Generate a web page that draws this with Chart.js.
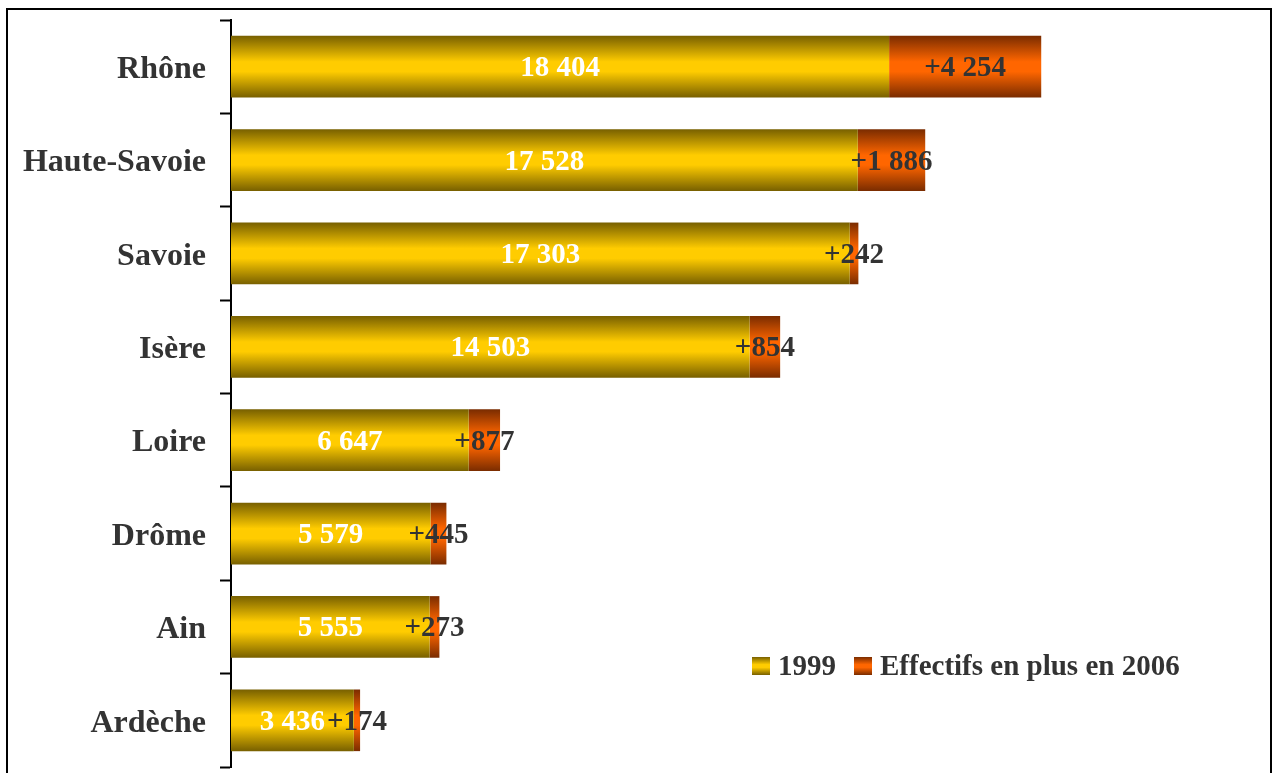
<!DOCTYPE html>
<html lang="fr">
<head>
<meta charset="utf-8">
<title>Effectifs par département</title>
<script src="https://cdn.jsdelivr.net/npm/chart.js@4"></script>
<style>
    body { margin: 0; background: #fff; }
    canvas { display: block; }
</style>
</head>
<body>
<canvas id="graficaDepartements" width="1273" height="773"></canvas>
<script>
// Données
const departements = ['Rhône', 'Haute-Savoie', 'Savoie', 'Isère', 'Loire', 'Drôme', 'Ain', 'Ardèche'];
const effectifs1999 = [18404, 17528, 17303, 14503, 6647, 5579, 5555, 3436];
const enPlus2006 = [4254, 1886, 242, 854, 877, 445, 273, 174];
const nomsSeries = ['1999', 'Effectifs en plus en 2006'];

const police = "'Liberation Serif', 'Times New Roman', serif";
const jaune = ['#786000', '#FFCC00'];
const orange = ['#7A2C00', '#FF6600'];
const epaisseur = 0.66;

function degrade(c, top, bottom, couleurs) {
    const g = c.createLinearGradient(0, top, 0, bottom);
    g.addColorStop(0, couleurs[0]);
    g.addColorStop(0.42, couleurs[1]);
    g.addColorStop(0.58, couleurs[1]);
    g.addColorStop(1, couleurs[0]);
    return g;
}

// dégradé vertical pour chaque barre
function couleurBarre(couleurs) {
    return function (context) {
        const chart = context.chart;
        const y = chart.scales.y;
        if (!chart.chartArea || !y || context.dataIndex === undefined) return couleurs[1];
        const centre = y.getPixelForValue(context.dataIndex);
        const h = (y.bottom - y.top) / departements.length * epaisseur;
        return degrade(chart.ctx, centre - h / 2, centre + h / 2, couleurs);
    };
}

function formatNombre(n) {
    return n.toString().replace(/\B(?=(\d{3})+(?!\d))/g, ' ');
}

// étiquettes des valeurs au centre de chaque segment
const etiquettes = {
    id: 'etiquettes',
    afterDatasetsDraw(chart) {
        const c = chart.ctx;
        c.save();
        c.font = 'bold 29px ' + police;
        c.textAlign = 'center';
        c.textBaseline = 'middle';
        chart.data.datasets.forEach((ds, i) => {
            chart.getDatasetMeta(i).data.forEach((bar, j) => {
                const p = bar.getProps(['x', 'y', 'base'], true);
                const texte = (i === 1 ? '+' : '') + formatNombre(ds.data[j]);
                c.fillStyle = i === 0 ? '#FFFFFF' : '#333333';
                c.fillText(texte, (p.x + p.base) / 2, p.y + 2);
            });
        });
        c.restore();
    }
};

// légende et cadre
const cadre = {
    id: 'cadre',
    afterDraw(chart) {
        const c = chart.ctx;
        c.save();
        c.strokeStyle = '#000';
        c.lineWidth = 2;
        c.beginPath();
        c.moveTo(7, 780);
        c.lineTo(7, 9);
        c.lineTo(1271, 9);
        c.lineTo(1271, 780);
        c.stroke();

        c.font = 'bold 29px ' + police;
        c.textBaseline = 'middle';
        c.fillStyle = degrade(c, 657, 675, jaune);
        c.fillRect(752, 657, 18, 18);
        c.fillStyle = '#333333';
        c.fillText(nomsSeries[0], 778, 668);
        c.fillStyle = degrade(c, 657, 675, orange);
        c.fillRect(854, 657, 18, 18);
        c.fillStyle = '#333333';
        c.fillText(nomsSeries[1], 880, 668);
        c.restore();
    }
};

document.addEventListener('DOMContentLoaded', function () {
    const ctx = document.getElementById('graficaDepartements').getContext('2d');
    new Chart(ctx, {
        type: 'bar',
        data: {
            labels: departements,
            datasets: [{
                label: nomsSeries[0],
                data: effectifs1999,
                backgroundColor: couleurBarre(jaune),
                borderWidth: 0,
                barPercentage: epaisseur,
                categoryPercentage: 1
            }, {
                label: nomsSeries[1],
                data: enPlus2006,
                backgroundColor: couleurBarre(orange),
                borderWidth: 0,
                barPercentage: epaisseur,
                categoryPercentage: 1
            }]
        },
        options: {
            indexAxis: 'y',
            responsive: false,
            animation: false,
            events: [],
            layout: { padding: { top: 20, bottom: 6, right: 5, left: 0 } },
            scales: {
                x: { display: false, stacked: true, min: 0, max: 29000 },
                y: {
                    stacked: true,
                    afterFit: function (scale) {
                        scale.width = 231;
                        scale.paddingTop = 0;
                        scale.paddingBottom = 0;
                    },
                    grid: {
                        drawOnChartArea: false,
                        drawTicks: true,
                        offset: true,
                        tickLength: 11,
                        tickWidth: 2,
                        tickColor: '#000'
                    },
                    border: { display: true, color: '#000', width: 2 },
                    ticks: {
                        color: '#333333',
                        padding: 14,
                        labelOffset: 3,
                        font: { family: police, size: 32, weight: 'bold' }
                    }
                }
            },
            plugins: {
                legend: { display: false },
                tooltip: { enabled: false }
            }
        },
        plugins: [etiquettes, cadre]
    });
});
</script>
</body>
</html>
